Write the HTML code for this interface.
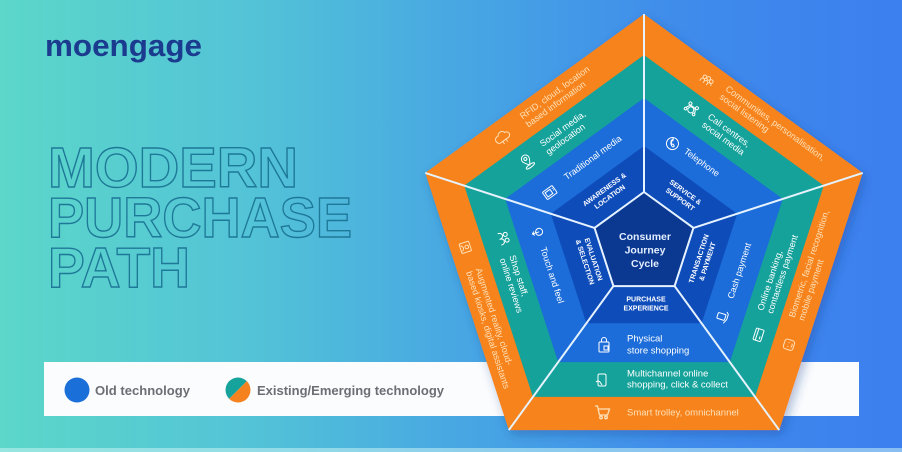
<!DOCTYPE html>
<html><head><meta charset="utf-8">
<style>
html,body{margin:0;padding:0;width:902px;height:452px;overflow:hidden;background:#4aa8e2;}
svg{display:block}
text{font-family:"Liberation Sans",Arial,sans-serif;}
</style></head>
<body>
<svg width="902" height="452" viewBox="0 0 902 452" xmlns="http://www.w3.org/2000/svg">
<defs>
<linearGradient id="bg" x1="0" y1="0" x2="1" y2="0">
<stop offset="0" stop-color="#5CD7C9"/>
<stop offset="0.28" stop-color="#53C3D7"/>
<stop offset="0.5" stop-color="#48A8E2"/>
<stop offset="0.75" stop-color="#3F8CEB"/>
<stop offset="1" stop-color="#3C7FEF"/>
</linearGradient>
<filter id="sh" x="-20%" y="-20%" width="140%" height="140%">
<feDropShadow dx="3" dy="4" stdDeviation="5" flood-color="#123a8a" flood-opacity="0.35"/>
</filter>
</defs>
<rect width="902" height="452" fill="url(#bg)"/>
<rect y="448" width="902" height="4" fill="#c8f3f4" opacity="0.55"/>

<!-- logo -->
<text x="45" y="56" font-size="31" font-weight="bold" fill="#1B3C8E" textLength="157" lengthAdjust="spacingAndGlyphs">moengage</text>

<!-- title outline -->
<g fill="none" stroke="#1E7898" stroke-width="1.4" font-weight="bold" font-size="57">
<text x="48" y="187" textLength="250" lengthAdjust="spacingAndGlyphs">MODERN</text>
<text x="48" y="237" textLength="304" lengthAdjust="spacingAndGlyphs">PURCHASE</text>
<text x="48" y="287" textLength="142" lengthAdjust="spacingAndGlyphs">PATH</text>
</g>

<!-- legend bar -->
<rect x="44" y="362" width="815" height="54" fill="#FAFCFE"/>
<circle cx="77" cy="390" r="12.5" fill="#1B6FD9"/>
<path d="M229.16 398.84 A12.5 12.5 0 0 1 246.84 381.16 Z" fill="#16A39B"/>
<path d="M229.16 398.84 A12.5 12.5 0 0 0 246.84 381.16 Z" fill="#F5821F"/>
<text x="95" y="395" font-size="13" font-weight="bold" fill="#6C6E74" textLength="95" lengthAdjust="spacingAndGlyphs">Old technology</text>
<text x="257" y="395" font-size="13" font-weight="bold" fill="#6C6E74" textLength="187" lengthAdjust="spacingAndGlyphs">Existing/Emerging technology</text>

<!-- pentagon -->
<g transform="translate(644 244)">
<polygon points="0,-230 218.75,-71.07 135.19,186.07 -135.19,186.07 -218.75,-71.07" fill="#F6831F" filter="url(#sh)"/>
<polygon points="0,-189 179.76,-58.4 111.09,152.9 -111.09,152.9 -179.76,-58.4" fill="#15A29A"/>
<polygon points="0,-146 138.86,-45.11 85.82,118.11 -85.82,118.11 -138.86,-45.11" fill="#1C6DD9"/>
<polygon points="0,-98 93.21,-30.28 57.6,79.28 -57.6,79.28 -93.21,-30.28" fill="#0E4CBA"/>
<polygon points="0,-52 49.46,-16.07 30.57,42.07 -30.57,42.07 -49.46,-16.07" fill="#0B3992" stroke="#E6F3FF" stroke-width="2"/>
<g stroke="#E6F3FF" stroke-width="2">
<line x1="0" y1="-52" x2="0" y2="-230"/>
<line x1="49.46" y1="-16.07" x2="218.75" y2="-71.07"/>
<line x1="30.57" y1="42.07" x2="135.19" y2="186.07"/>
<line x1="-30.57" y1="42.07" x2="-135.19" y2="186.07"/>
<line x1="-49.46" y1="-16.07" x2="-218.75" y2="-71.07"/>
</g>

<!-- center -->
<g fill="#E3EEFF" font-size="10.5" font-weight="bold" text-anchor="middle">
<text x="1" y="-4">Consumer</text>
<text x="1" y="9.5">Journey</text>
<text x="1" y="23">Cycle</text>
</g>

<!-- TOP-LEFT: Awareness -->
<g transform="rotate(-36)">
<g fill="#fff" font-size="7" font-weight="bold" text-anchor="middle">
<text x="0" y="-65">AWARENESS &amp;</text>
<text x="0" y="-56">LOCATION</text>
</g>
<g font-size="9" fill="#fff">
<text x="-25" y="-97">Traditional media</text>
<text x="-25" y="-138">Social media,</text>
<text x="-25" y="-128">geolocation</text>
</g>
<g font-size="9" fill="#FFE1B8">
<text x="-25" y="-172">RFID, cloud, location</text>
<text x="-25" y="-162">based information</text>
</g>
<g fill="none" stroke="#fff" stroke-width="1">
<g transform="translate(-46 -97)"><rect x="-6" y="-4.5" width="12" height="9" rx="1"/><rect x="-4" y="-2.5" width="6" height="5"/><path d="M4 -2h1M4 0h1"/></g>
<g transform="translate(-46 -135)"><path d="M0 4C-3 0-4-2-4-3.5a4 4 0 0 1 8 0C4-2 3 0 0 4z"/><circle cx="0" cy="-3.5" r="1.5"/><ellipse cx="0" cy="5" rx="5" ry="1.5"/></g>
<g transform="translate(-52 -169)" stroke="#FFE1B8"><path d="M-5 3H5a3 3 0 0 0 0-6a4 4 0 0 0-7.5-1a3.5 3.5 0 0 0-2.5 7z"/><path d="M-2 3v3M2 3v3"/></g>
</g>
</g>

<!-- TOP-RIGHT: Service -->
<g transform="rotate(36)">
<g fill="#fff" font-size="7" font-weight="bold" text-anchor="middle">
<text x="3" y="-64">SERVICE &amp;</text>
<text x="3" y="-55">SUPPORT</text>
</g>
<g font-size="9" fill="#fff">
<text x="-22" y="-97">Telephone</text>
<text x="-23" y="-139">Call centres,</text>
<text x="-23" y="-129">social media</text>
</g>
<g font-size="9" fill="#FFE1B8">
<text x="-25" y="-172">Communities, personalisation,</text>
<text x="-25" y="-162">social listening</text>
</g>
<g fill="none" stroke="#fff" stroke-width="1">
<g transform="translate(-36 -98)"><circle r="6"/><path d="M-2.5-3c-1 2 2 6 5 5.5l0.5-1.5-2-1-1 1c-1-0.5-2-1.5-2.3-2.5l1-1-1-2z"/></g>
<g transform="translate(-41 -136)"><circle cx="0" cy="0" r="3"/><path d="M-5 1a5 5 0 0 1 10 0"/><circle cx="-5" cy="2" r="1.3"/><circle cx="5" cy="2" r="1.3"/><circle cx="-4" cy="-5" r="1.5"/><circle cx="4" cy="-5" r="1.5"/></g>
<g transform="translate(-45 -169)" stroke="#FFE1B8"><circle cx="-4" cy="-2" r="1.8"/><circle cx="0" cy="-3" r="1.8"/><circle cx="4" cy="-2" r="1.8"/><path d="M-6 4v-2a2 2 0 0 1 4 0M-2 4v-2a2 2 0 0 1 4 0M2 4v-2a2 2 0 0 1 4 0"/></g>
</g>
</g>

<!-- RIGHT: Transaction -->
<g transform="rotate(-72)">
<g fill="#fff" font-size="7" font-weight="bold" text-anchor="middle">
<text x="3" y="59">TRANSACTION</text>
<text x="3" y="68">&amp; PAYMENT</text>
</g>
<g font-size="9" fill="#fff">
<text x="-25" y="102">Cash payment</text>
<text x="-27" y="134">Online banking,</text>
<text x="-27" y="144">contactless payment</text>
</g>
<g font-size="9" fill="#FFE1B8">
<text x="-24" y="166">Biometric, facial recognition,</text>
<text x="-24" y="176">mobile payment</text>
</g>
<g fill="none" stroke="#fff" stroke-width="1">
<g transform="translate(-45 98)"><rect x="-3" y="-6" width="6" height="8" rx="1"/><path d="M-6 2c2 0 3 2 5 2h5l2-2"/></g>
<g transform="translate(-51 137)"><rect x="-6" y="-4" width="12" height="8" rx="1"/><path d="M-6-1.5h12M-4 2h3"/></g>
<g transform="translate(-51 169)" stroke="#FFE1B8"><rect x="-5" y="-5" width="10" height="10" rx="2.5"/><path d="M-2-1v1M2-1v1M-2 2.5q2 1.5 4 0"/></g>
</g>
</g>

<!-- LEFT: Evaluation -->
<g transform="rotate(72)">
<g fill="#fff" font-size="7" font-weight="bold" text-anchor="middle">
<text x="-1" y="55">EVALUATION</text>
<text x="-1" y="64">&amp; SELECTION</text>
</g>
<g font-size="9" fill="#fff">
<text x="-28" y="100">Touch and feel</text>
<text x="-30" y="132">Shop staff,</text>
<text x="-30" y="142">online reviews</text>
</g>
<g font-size="9" fill="#FFE1B8">
<text x="-28" y="168">Augmented reality, cloud-</text>
<text x="-28" y="178">based kiosks, digital assistants</text>
</g>
<g fill="none" stroke="#fff" stroke-width="1">
<g transform="translate(-44 98)"><circle cx="0" cy="-2" r="3.5"/><path d="M0 -2v7M-2 3l2 2 2-2"/></g>
<g transform="translate(-49 132)"><circle cx="-3" cy="-3" r="2"/><circle cx="3" cy="-3" r="2"/><path d="M-6 4q0-4 3-4q3 0 3 4M0 4q0-4 3-4q3 0 3 4"/></g>
<g transform="translate(-52 171)" stroke="#FFE1B8"><rect x="-5" y="-5" width="10" height="10" rx="1"/><circle cx="0" cy="-1.5" r="1.8"/><path d="M-3 4q3-4 6 0"/></g>
</g>
</g>

<!-- BOTTOM: Purchase -->
<g>
<g fill="#fff" font-size="7" font-weight="bold" text-anchor="middle">
<text x="2" y="57.5">PURCHASE</text>
<text x="2" y="66.5">EXPERIENCE</text>
</g>
<g font-size="9.5" fill="#fff">
<text x="-17" y="97.5">Physical</text>
<text x="-17" y="109.5">store shopping</text>
<text x="-17" y="132.5">Multichannel online</text>
<text x="-17" y="143.5">shopping, click &amp; collect</text>
</g>
<text x="-17" y="171.5" font-size="9.5" fill="#FFE1B8">Smart trolley, omnichannel</text>
<g fill="none" stroke="#fff" stroke-width="1">
<g transform="translate(-40 101)"><rect x="-5" y="-3" width="10" height="10" rx="1"/><path d="M-2.5-3v-2a2.5 2.5 0 0 1 5 0v2"/><rect x="0" y="1" width="4" height="4"/></g>
<g transform="translate(-42 136)"><rect x="-4" y="-6" width="8" height="12" rx="1.5"/><path d="M-6 2q2 -2 4 0l2 3"/></g>
<g transform="translate(-42 168)" stroke="#FFE1B8" stroke-width="1.3"><path d="M-7-6h2.5l2 9h8l2-6h-11"/><circle cx="-1" cy="5.5" r="1.3"/><circle cx="4" cy="5.5" r="1.3"/></g>
</g>
</g>
</g>
</svg>
</body></html>
